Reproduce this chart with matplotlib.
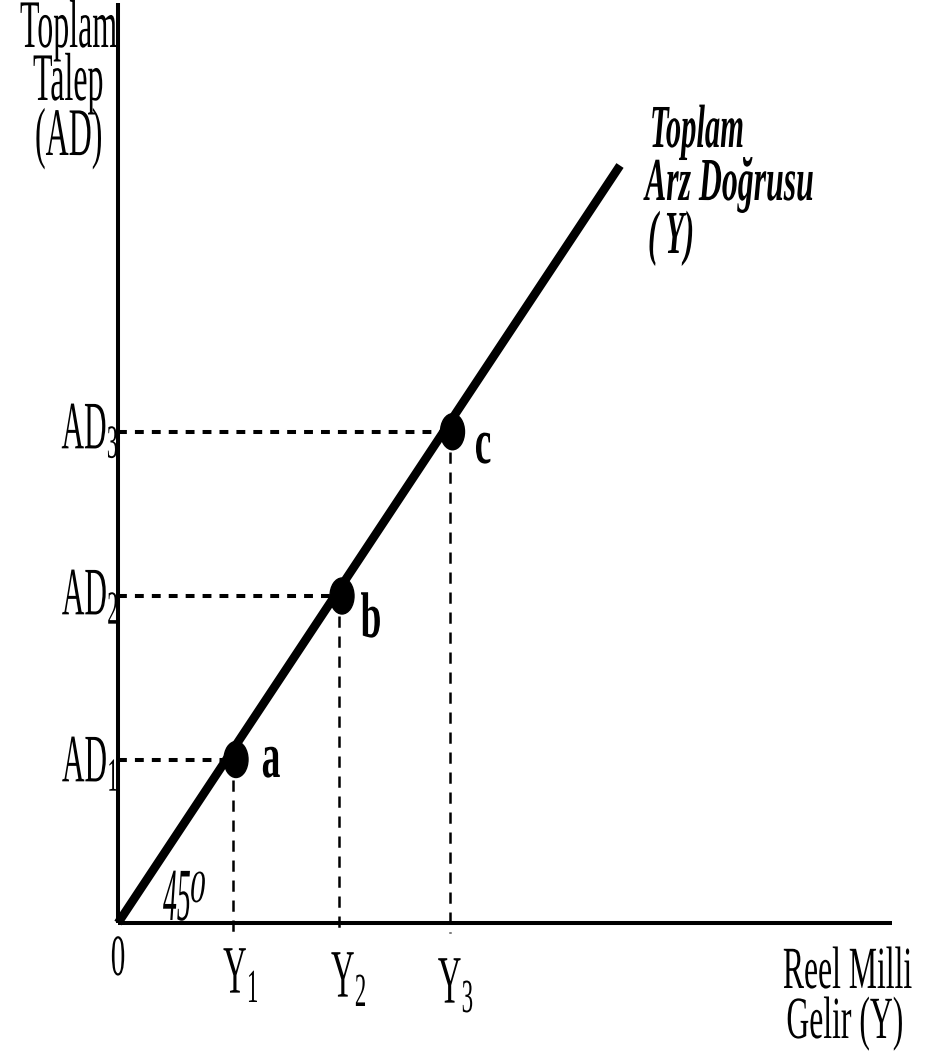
import matplotlib
matplotlib.use("Agg")
import matplotlib.pyplot as plt
import matplotlib.patheffects as pe
from matplotlib.patches import Ellipse
from matplotlib.transforms import Affine2D

plt.rcParams['font.family'] = ['Liberation Serif', 'DejaVu Serif']
plt.rcParams['mathtext.fontset'] = 'custom'
plt.rcParams['mathtext.rm'] = 'Liberation Serif'
plt.rcParams['mathtext.it'] = 'Liberation Serif:italic'

# equilibrium points on the 45 degree line
point_names = ['a', 'b', 'c']
income = [2.3, 4.42, 6.63]          # Y1, Y2, Y3
demand = [2.18, 4.36, 6.55]         # AD1, AD2, AD3
income_labels = ['Y$_1$', 'Y$_2$', 'Y$_3$']
demand_labels = ['AD$_1$', 'AD$_2$', 'AD$_3$']

# 45 degree line end points
line_x = [0, 10.04]
line_y = [0, 10.1]

# axis extents
x_max = 15.48
y_max = 12.27


class Tall(pe.AbstractPathEffect):
    # the original lettering is a narrow serif: stretch glyphs upward from the baseline
    def __init__(self, sy=2.0):
        super().__init__()
        self.sy = sy

    def draw_path(self, renderer, gc, tpath, affine, rgbFace=None):
        ty = affine.get_matrix()[1, 2]
        aff = affine + Affine2D().translate(0, -ty).scale(1, self.sy).translate(0, ty)
        renderer.draw_path(gc, tpath, aff, rgbFace)


def px(x, y):
    # picture pixel -> data position (origin at 118, 923; 50 px per x unit, 75 px per y unit)
    return (x - 118) / 50, (923 - y) / 75


def label(x, y, s, size, sy=2.0, ha='center', **kw):
    xd, yd = px(x, y)
    ax.text(xd, yd, s, fontsize=size, ha=ha, va='baseline',
            path_effects=[Tall(sy)], **kw)


fig = plt.figure(figsize=(9.26, 10.57), dpi=100)
ax = fig.add_axes([0, 0, 1, 1])
ax.set_xlim(-118 / 50, (926 - 118) / 50)
ax.set_ylim(-(1057 - 923) / 75, 923 / 75)
ax.axis('off')

# axes
ax.plot([0, 0], [0, y_max], color='black', lw=2.9, solid_capstyle='butt')
ax.plot([0, x_max], [0, 0], color='black', lw=2.9, solid_capstyle='butt')

# 45 degree line
ax.plot(line_x, line_y, color='black', lw=6.2, solid_capstyle='butt')

for x, y, name in zip(income, demand, point_names):
    ax.plot([0, x], [y, y], color='black', lw=2.9, dashes=(2.2, 2.0))
    ax.plot([x, x], [y, -0.13], color='black', lw=1.8, dashes=(4.5, 3.5))
    ax.add_patch(Ellipse((x + 0.06, y), 0.48, 0.48, color='black', zorder=5))

# point names
label(271, 777, 'a', 27, sy=1.72, fontweight='bold')
label(371, 637, 'b', 27, sy=1.72, fontweight='bold')
label(483, 463, 'c', 27, sy=1.72, fontweight='bold')

# axis tick labels
for s, y in zip(demand_labels, [782, 615, 449]):
    label(119, y, s, 22.5, sy=2.17, ha='right')
for s, x, y in zip(income_labels, [241, 349, 456], [993, 997, 1003]):
    label(x, y, s, 23.5, sy=2.08)
label(118, 975, '0', 21, sy=2.0)
label(163, 920, '45', 20, sy=2.7, ha='left', fontstyle='italic')
label(190, 902, '0', 22, sy=1.5, ha='left', fontstyle='italic')

# axis titles
label(20, 47, 'Toplam', 23, sy=2.13, ha='left')
label(33, 100, 'Talep', 23, sy=2.13, ha='left')
label(35, 155, '(AD)', 23, sy=2.13, ha='left')
label(912, 988, 'Reel Milli', 22.8, sy=1.89, ha='right')
label(903, 1038, 'Gelir (Y)', 22.8, sy=1.89, ha='right')

# line name
label(650, 147, 'Toplam', 22, sy=2.0, ha='left', fontweight='bold', fontstyle='italic')
label(645, 200, 'Arz Doğrusu', 22.9, sy=1.92, ha='left', fontweight='bold', fontstyle='italic')
label(648, 253, '( Y)', 22, sy=2.0, ha='left', fontweight='bold', fontstyle='italic')

fig.savefig('out.png', dpi=100)
